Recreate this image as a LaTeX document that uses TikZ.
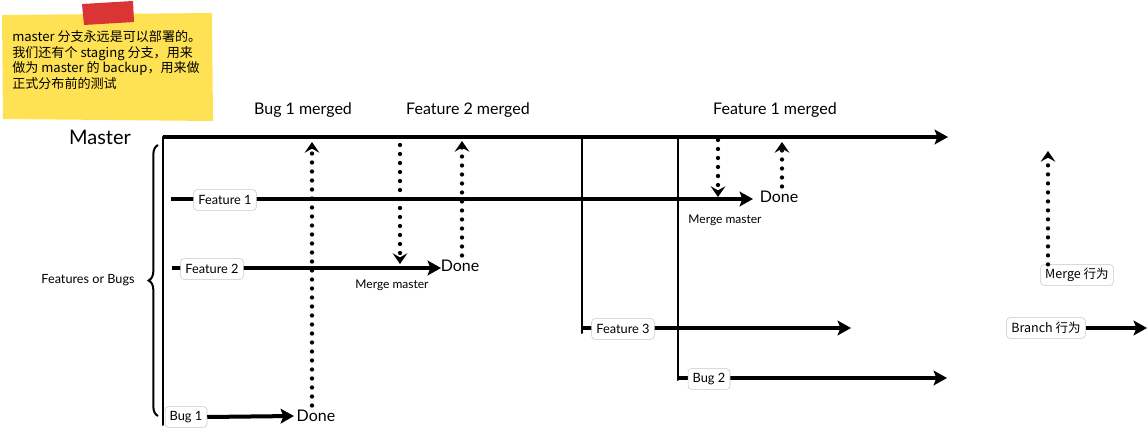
\documentclass[tikz,border=0pt]{standalone}
\usepackage{fontspec}
\setmainfont{Lato}
\newfontfamily\cjk{Noto Sans CJK SC}
\usetikzlibrary{arrows.meta,decorations.pathreplacing}

\definecolor{noteyellow}{RGB}{255,226,84}
\definecolor{tapered}{RGB}{218,52,52}

\tikzset{
  flow/.style={line width=3pt, -{Stealth[length=10pt,width=11pt,inset=2pt]}},
  trunk/.style={line width=1.5pt, line cap=round},
  mergeflow/.style={line width=3.2pt, line cap=round, dash pattern=on 0pt off 6.75pt,
    -{Stealth[length=8pt,width=11pt,inset=3pt]}},
  tag/.style={draw=black!22, fill=white, rounded corners=2.5pt, inner xsep=3.5pt,
    inner ysep=0pt, minimum height=15.5pt, font=\fontsize{9.6}{10}\selectfont},
  event/.style={font=\fontsize{12}{13}\selectfont},
  remark/.style={font=\fontsize{9}{10}\selectfont},
}

\begin{document}
\begin{tikzpicture}[x=0.75pt,y={(0pt,-0.75pt)}]
\useasboundingbox (0,0) rectangle (1147,428);
% sticky note
\fill[noteyellow] (2,15) -- (212,13) -- (213,121) -- (3,119) -- cycle;
\fill[tapered] (82,4) -- (133,1) -- (134,22) -- (84,25) -- cycle;
\node[anchor=north west, align=left, inner sep=0pt,
  font=\cjk\fontsize{9.8}{11.8}\selectfont] (note) at (12,30)
  {master 分支永远是可以部署的。\\我们还有个 staging 分支，用来\\做为 master 的 backup，用来做\\正式分布前的测试};

% master and the trunk lines
\coordinate (m0) at (163,137);
\coordinate (m1) at (948,137);
\coordinate (t0) at (163,425);
\coordinate (f3top) at (582,137);
\coordinate (f3corner) at (582,333);
\coordinate (b2top) at (678,137);
\coordinate (b2corner) at (678,380);
\draw[trunk] (m0) -- (t0);
\draw[trunk] (f3top) -- (f3corner);
\draw[trunk] (b2top) -- (b2corner);
\draw[flow] (m0) -- (m1);
\node[font=\fontsize{15}{16}\selectfont] (master) at (100,137) {Master};

% brace
\coordinate (brbot) at (158,416);
\coordinate (brtop) at (158,145);
\draw[line width=1.5pt, decorate, decoration={brace, amplitude=7pt}] (brbot) -- (brtop);
\node[font=\fontsize{9.5}{10}\selectfont] (fob) at (88,280) {Features or Bugs};

% events on master
\node[event] (bug1merged) at (303,110) {Bug 1 merged};
\node[event] (feat2merged) at (468,110) {Feature 2 merged};
\node[event] (feat1merged) at (775,110) {Feature 1 merged};

% feature 1
\coordinate (f1start) at (171,199);
\coordinate (f1end) at (753,199);
\draw[flow] (f1start) -- (f1end);
\node[tag] (feat1) at (225,200) {Feature 1};
\node[event] (done1) at (779,197) {Done};
\node[remark] (mm1) at (725,220) {Merge master};

% feature 2
\coordinate (f2start) at (172,268);
\coordinate (f2end) at (441,268);
\draw[flow] (f2start) -- (f2end);
\node[tag] (feat2) at (212,269) {Feature 2};
\node[event] (done2) at (460,266) {Done};
\node[remark] (mm2) at (392,285) {Merge master};

% bug 1
\node[tag] (bug1) at (186,417) {Bug 1};
\coordinate (b1end) at (294,416);
\draw[flow] (bug1.east) -- (b1end);
\node[event] (done3) at (316,416) {Done};

% feature 3 and bug 2
\coordinate (f3end) at (851,328);
\draw[flow] (f3corner |- f3end) -- (f3end);
\node[tag] (feat3) at (623,329) {Feature 3};
\coordinate (b2end) at (947,378);
\draw[flow] (b2corner |- b2end) -- (b2end);
\node[tag] (bug2) at (709,379) {Bug 2};

% merges
\coordinate (up1) at (312,142);
\draw[mergeflow] (done3.north -| up1) -- (up1);
\coordinate (down2a) at (400,145);
\coordinate (down2b) at (400,264);
\draw[mergeflow] (down2a) -- (down2b);
\coordinate (up2) at (462,141);
\draw[mergeflow] (done2.north -| up2) -- (up2);
\coordinate (down1a) at (718,140);
\coordinate (down1b) at (718,197);
\draw[mergeflow] (down1a) -- (down1b);
\coordinate (up3) at (782,142);
\draw[mergeflow] (done1.north -| up3) -- (up3);

% legend
\node[tag, font=\cjk\fontsize{9.4}{10}\selectfont] (mergebeh) at (1077,275) {Merge 行为};
\coordinate (upm) at (1048,151);
\draw[mergeflow] (mergebeh.north -| upm) -- (upm);
\node[tag, font=\cjk\fontsize{9.4}{10}\selectfont] (branchbeh) at (1046,328) {Branch 行为};
\coordinate (brend) at (1147,328);
\draw[flow] (branchbeh.east) -- (brend);
\end{tikzpicture}
\end{document}
